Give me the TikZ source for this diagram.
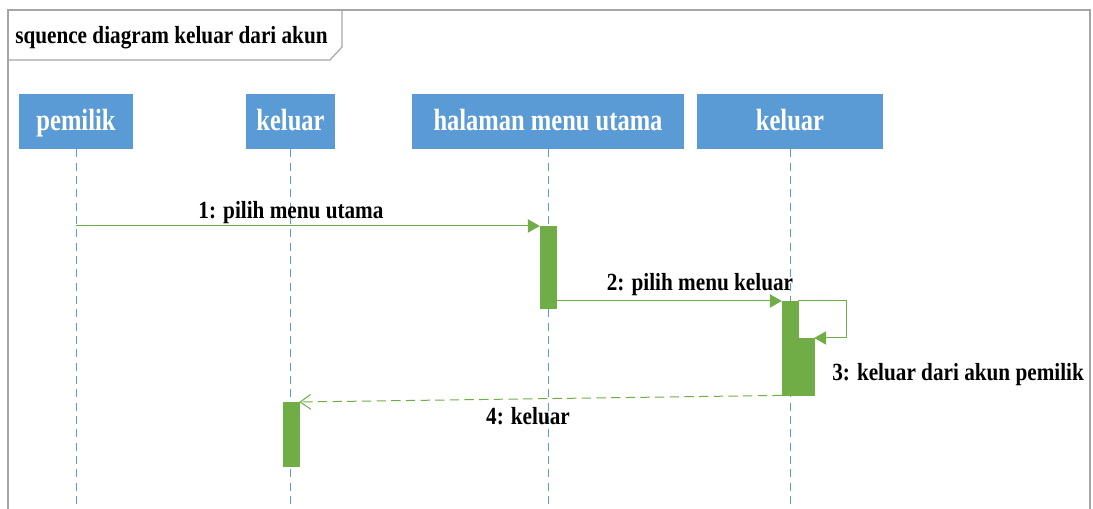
\documentclass[tikz,border=0pt]{standalone}
\usepackage{fontspec}
\setmainfont{Liberation Serif}[FakeStretch=0.86]
\newfontfamily\headfont{Liberation Serif}[FakeStretch=0.80]
\usetikzlibrary{arrows.meta}
\definecolor{headblue}{HTML}{5B9BD5}
\definecolor{actgreen}{HTML}{70AD47}
\definecolor{framegray}{HTML}{A6A6A6}
\tikzset{
  frameline/.style={draw=framegray, line width=0.9pt},
  lifehead/.style={fill=headblue, text=white, inner sep=0pt,
    font=\headfont\bfseries\fontsize{23}{26}\selectfont,
    minimum height=41.25pt, text height=14pt, text depth=1pt},
  lifeline/.style={draw=headblue, line width=0.75pt, dash pattern=on 6pt off 4pt},
  activation/.style={fill=actgreen, draw=actgreen, line width=0.3pt,
    minimum width=12pt, inner sep=0pt, anchor=north},
  msg/.style={draw=actgreen, line width=0.75pt,
    -{Triangle[length=9pt, width=10pt]}},
  reply/.style={draw=actgreen, line width=0.75pt, dash pattern=on 7pt off 4pt,
    -{Straight Barb[length=8pt, width=11pt, line width=0.75pt]}},
  msglabel/.style={font=\bfseries\fontsize{18.5}{21}\selectfont, inner sep=0pt},
}
\begin{document}
\begin{tikzpicture}[x=0.75pt, y=-0.75pt]
  \useasboundingbox (0,0) rectangle (1093,509);
  \clip (0,0) rectangle (1093,509);
  \fill[white] (0,0) rectangle (1093,509);

  % frame and title tab
  \draw[frameline] (8,520) -- (8,10) -- (1090,10) -- (1090,520);
  \draw[frameline] (8,60) -- (330,60) -- (342,47) -- (342,10);
  \node[msglabel, anchor=base west] (title) at (15,44) {squence diagram keluar dari akun};

  % lifeline heads
  \node[lifehead, minimum width=85.5pt] (pemilik) at (76,121.5) {pemilik};
  \node[lifehead, minimum width=66.75pt] (keluarA) at (290.5,121.5) {keluar};
  \node[lifehead, minimum width=204pt] (menu) at (548,121.5) {halaman menu utama};
  \node[lifehead, minimum width=139.5pt] (keluarB) at (790,121.5) {keluar};

  % lifelines
  \coordinate (bottom) at (0,512);
  \draw[lifeline] (pemilik.south) -- (pemilik.south |- bottom);
  \draw[lifeline] (keluarA.south) -- (keluarA.south |- bottom);
  \draw[lifeline] (menu.south) -- (menu.south |- bottom);
  \draw[lifeline] (keluarB.south) -- (keluarB.south |- bottom);

  % activations
  \node[activation, minimum height=61.5pt] (act1) at (548,226) {};
  \node[activation, minimum height=70.5pt] (act2) at (790,301) {};
  \node[activation, minimum height=42.75pt] (act3) at (806,338) {};
  \node[activation, minimum height=48pt] (act4) at (291,402) {};

  % messages
  \coordinate (m1s) at (76,226);
  \draw[msg] (m1s) -- (act1.north west);
  \draw[msg] (act1.east |- act2.north) -- (act2.north west);
  \draw[msg] (act2.north east) -- ++(48,0) |- (act3.north east);
  \draw[reply] (act2.south west) -- (act4.north east);

  % message labels
  \node[msglabel, anchor=base] (l1) at (291,219) {1: pilih menu utama};
  \node[msglabel, anchor=base] (l2) at (700,291) {2: pilih menu keluar};
  \node[msglabel, anchor=base west] (l3) at (832,381) {3: keluar dari akun pemilik};
  \node[msglabel, anchor=base] (l4) at (528,425) {4: keluar};
\end{tikzpicture}
\end{document}
